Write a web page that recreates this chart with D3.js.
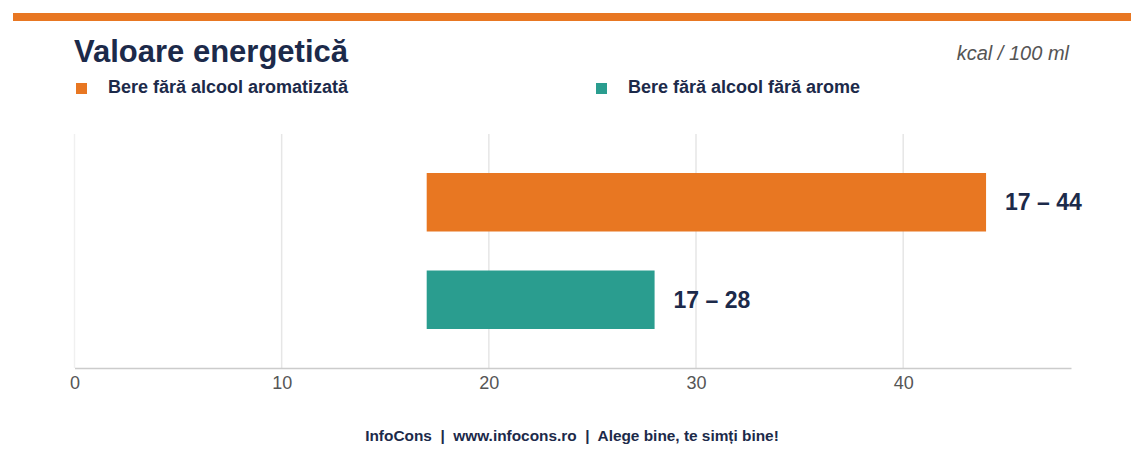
<!DOCTYPE html>
<html><head><meta charset="utf-8">
<script src="https://cdn.jsdelivr.net/npm/d3@7"></script>
<style>body{margin:0;background:#fff}svg{display:block;font-family:"Liberation Sans",Arial,sans-serif}</style>
</head><body><svg id="c" width="1143" height="457"></svg>
<script>
const categories = ["Bere fără alcool aromatizată", "Bere fără alcool fără arome"];
const minValues = [17, 17];
const maxValues = [44, 28];
const colors = ["#e87722", "#2a9d8f"];
const ticks = [0, 10, 20, 30, 40];
const title = "Valoare energetică";
const unit = "kcal / 100 ml";
const footer = "InfoCons  |  www.infocons.ro  |  Alege bine, te simți bine!";

const svg = d3.select("#c");
const navy = "#1c2a4a";
const L = 74.5, R = 1071, T = 134, B = 368;
const x = d3.scaleLinear().domain([0, 48.1]).range([L, R]);
const y = d3.scaleBand().domain(categories).range([T, B]).paddingInner(0.4).paddingOuter(0.4);

svg.append("rect").attr("x",13).attr("y",13).attr("width",1118).attr("height",8).attr("fill","#e87722");
svg.append("text").attr("x",74).attr("y",62).attr("font-size",31).attr("font-weight","bold").attr("fill",navy).text(title);
svg.append("text").attr("x",1069).attr("y",60).attr("text-anchor","end").attr("font-size",20).attr("font-style","italic").attr("fill","#555").text(unit);

const legX = [76, 596];
categories.forEach((c,i)=>{
  svg.append("rect").attr("x",legX[i]).attr("y",83).attr("width",11).attr("height",11).attr("fill",colors[i]);
  svg.append("text").attr("x",legX[i]+32).attr("y",93).attr("font-size",18).attr("font-weight","bold").attr("fill",navy).text(c);
});

// grid
svg.append("g").selectAll("line").data(ticks).join("line")
  .attr("x1",d=>x(d)).attr("x2",d=>x(d)).attr("y1",T).attr("y2",B)
  .attr("stroke",d=>d===0?"#f0f0f0":"#e6e6e6").attr("stroke-width",1.5);

const ax = svg.append("g").attr("transform",`translate(0,${B})`)
  .call(d3.axisBottom(x).tickValues(ticks).tickSize(0).tickPadding(8));
ax.select(".domain").attr("stroke","#cccccc").attr("stroke-width",1.5);
ax.selectAll("text").attr("font-size",18).attr("fill","#555").attr("font-family","Liberation Sans, Arial, sans-serif");

svg.append("g").selectAll("rect").data(categories).join("rect")
  .attr("x",(d,i)=>x(minValues[i])).attr("width",(d,i)=>x(maxValues[i])-x(minValues[i]))
  .attr("y",d=>y(d)).attr("height",y.bandwidth()).attr("fill",(d,i)=>colors[i]);

svg.append("g").selectAll("text").data(categories).join("text")
  .attr("x",(d,i)=>x(maxValues[i])+19).attr("y",d=>y(d)+y.bandwidth()/2+8)
  .attr("font-size",23).attr("font-weight","bold").attr("fill",navy)
  .text((d,i)=>`${minValues[i]} – ${maxValues[i]}`);

svg.append("text").attr("x",572).attr("y",441).attr("text-anchor","middle").attr("font-size",15.4).attr("font-weight","bold").attr("fill",navy).attr("xml:space","preserve").style("white-space","pre").text(footer);
</script></body></html>
